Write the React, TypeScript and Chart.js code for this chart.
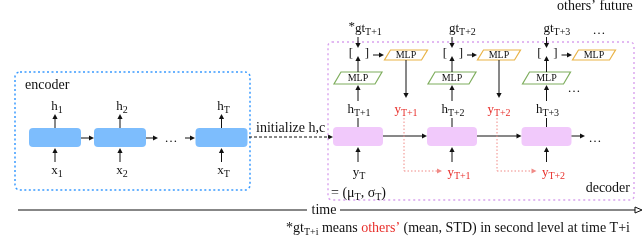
import React, { useEffect, useRef } from "react";
import { Chart, registerables } from "chart.js";

Chart.register(...registerables);

const W = 644;
const H = 245;

// ---- diagram data (centres / labels in diagram units) ----
const encCellX = [55, 120, 221.5];
const encSub = ["1", "2", "T"];
const decCellX = [358, 452, 546.5];
const decHSub = ["T+1", "T+2", "T+3"];
const gtSub = ["T+1", "T+2", "T+3"];
const outMlpX = [406, 499, 594];
const predSub = ["T+1", "T+2"];
const inputSub = ["T", "T+1", "T+2"];
const inputRed = [false, true, true];

const FONT = '"Liberation Serif", "DejaVu Serif", serif';
const RED = "#e8302c";
const BLACK = "#111";
const TXT = 14;

type Seg = { t: string; sub?: boolean; color?: string };

function rich(ctx: CanvasRenderingContext2D, segs: Seg[], x: number, y: number, size: number, align: "left" | "center" | "right" = "center", color = BLACK) {
  const subSize = Math.round(size * 0.74);
  const widths = segs.map((s) => {
    ctx.font = `${s.sub ? subSize : size}px ${FONT}`;
    return ctx.measureText(s.t).width;
  });
  const total = widths.reduce((a, b) => a + b, 0);
  let cur = align === "center" ? x - total / 2 : align === "right" ? x - total : x;
  ctx.textAlign = "left";
  ctx.textBaseline = "alphabetic";
  segs.forEach((s, i) => {
    ctx.font = `${s.sub ? subSize : size}px ${FONT}`;
    ctx.fillStyle = s.color || color;
    ctx.fillText(s.t, cur, s.sub ? y + 3 : y);
    cur += widths[i];
  });
}

function arrow(ctx: CanvasRenderingContext2D, x1: number, y1: number, x2: number, y2: number, color = BLACK, dash: number[] = [], lw = 1, head = 5) {
  const ang = Math.atan2(y2 - y1, x2 - x1);
  ctx.save();
  ctx.strokeStyle = color;
  ctx.fillStyle = color;
  ctx.lineWidth = lw;
  ctx.setLineDash(dash);
  ctx.beginPath();
  ctx.moveTo(x1, y1);
  ctx.lineTo(x2 - Math.cos(ang) * head * 0.8, y2 - Math.sin(ang) * head * 0.8);
  ctx.stroke();
  ctx.setLineDash([]);
  ctx.beginPath();
  ctx.moveTo(x2, y2);
  ctx.lineTo(x2 - head * Math.cos(ang) + 2.6 * Math.sin(ang), y2 - head * Math.sin(ang) - 2.6 * Math.cos(ang));
  ctx.lineTo(x2 - head * Math.cos(ang) - 2.6 * Math.sin(ang), y2 - head * Math.sin(ang) + 2.6 * Math.cos(ang));
  ctx.closePath();
  ctx.fill();
  ctx.restore();
}

function line(ctx: CanvasRenderingContext2D, x1: number, y1: number, x2: number, y2: number, color = BLACK, dash: number[] = [], lw = 1) {
  ctx.save();
  ctx.strokeStyle = color;
  ctx.lineWidth = lw;
  ctx.setLineDash(dash);
  ctx.beginPath();
  ctx.moveTo(x1, y1);
  ctx.lineTo(x2, y2);
  ctx.stroke();
  ctx.restore();
}

function para(ctx: CanvasRenderingContext2D, cx: number, cy: number, w: number, h: number, skew: number, stroke: string) {
  const l = cx - w / 2, r = cx + w / 2, t = cy - h / 2, b = cy + h / 2;
  ctx.save();
  ctx.beginPath();
  ctx.moveTo(l + skew, t);
  ctx.lineTo(r, t);
  ctx.lineTo(r - skew, b);
  ctx.lineTo(l, b);
  ctx.closePath();
  ctx.fillStyle = "#fff";
  ctx.fill();
  ctx.strokeStyle = stroke;
  ctx.lineWidth = 1.2;
  ctx.stroke();
  ctx.fillStyle = BLACK;
  ctx.font = `10px ${FONT}`;
  ctx.textAlign = "center";
  ctx.textBaseline = "middle";
  ctx.fillText("MLP", cx, cy + 0.5);
  ctx.restore();
}

function rrect(ctx: CanvasRenderingContext2D, x: number, y: number, w: number, h: number, r: number, fill?: string, stroke?: string, dash: number[] = [], lw = 1) {
  ctx.save();
  ctx.beginPath();
  ctx.roundRect(x, y, w, h, r);
  if (fill) {
    ctx.fillStyle = fill;
    ctx.fill();
  }
  if (stroke) {
    ctx.strokeStyle = stroke;
    ctx.lineWidth = lw;
    ctx.setLineDash(dash);
    ctx.stroke();
  }
  ctx.restore();
}

function dots(ctx: CanvasRenderingContext2D, x: number, y: number) {
  ctx.save();
  ctx.fillStyle = BLACK;
  ctx.font = `13px ${FONT}`;
  ctx.textAlign = "center";
  ctx.textBaseline = "alphabetic";
  ctx.fillText("…", x, y);
  ctx.restore();
}

function plain(ctx: CanvasRenderingContext2D, t: string, x: number, y: number, align: CanvasTextAlign, size = TXT, color = BLACK) {
  ctx.save();
  ctx.fillStyle = color;
  ctx.font = `${size}px ${FONT}`;
  ctx.textAlign = align;
  ctx.textBaseline = "alphabetic";
  ctx.fillText(t, x, y);
  ctx.restore();
}

const diagramPlugin = {
  id: "diagram",
  afterDraw(chart: any) {
    const ctx: CanvasRenderingContext2D = chart.ctx;
    const sx = (v: number) => chart.scales.x.getPixelForValue(v);
    const sy = (v: number) => chart.scales.y.getPixelForValue(v);

    // encoder box
    rrect(ctx, sx(15), sy(72), sx(250) - sx(15), sy(190) - sy(72), 5, undefined, "#3a9bff", [2, 2.5], 1.5);
    plain(ctx, "encoder", sx(25), sy(89), "left");

    // encoder cells
    encCellX.forEach((cx, i) => {
      rrect(ctx, sx(cx - 26), sy(128), sx(cx + 26) - sx(cx - 26), sy(147) - sy(128), 4, "#7dbdfd");
      arrow(ctx, sx(cx), sy(128), sx(cx), sy(114));
      arrow(ctx, sx(cx), sy(162), sx(cx), sy(148));
      rich(ctx, [{ t: "h" }, { t: encSub[i], sub: true }], sx(cx + 2), sy(110), 13);
      rich(ctx, [{ t: "x" }, { t: encSub[i], sub: true }], sx(cx + 2), sy(174), 13);
    });
    arrow(ctx, sx(encCellX[0] + 26), sy(138), sx(encCellX[1] - 26), sy(138));
    arrow(ctx, sx(encCellX[1] + 26), sy(138), sx(158), sy(138));
    dots(ctx, sx(171), sy(142));
    arrow(ctx, sx(185), sy(138), sx(encCellX[2] - 26.5), sy(138));

    // initialize
    arrow(ctx, sx(249), sy(137), sx(decCellX[0] - 25), sy(137), BLACK, [3, 2]);
    plain(ctx, "initialize h,c", sx(256), sy(132), "left");

    // decoder box
    rrect(ctx, sx(328), sy(42), sx(634) - sx(328), sy(200) - sy(42), 4, undefined, "#d9a2ee", [2, 3], 1.4);
    plain(ctx, "decoder", sx(630), sy(192), "right");

    // decoder columns
    decCellX.forEach((cx, i) => {
      rrect(ctx, sx(cx - 25), sy(127), sx(cx + 25) - sx(cx - 25), sy(146) - sy(127), 4, "#f1c9fb");
      // h label
      line(ctx, sx(cx), sy(127), sx(cx), sy(118));
      rich(ctx, [{ t: "h" }, { t: decHSub[i], sub: true }], sx(cx + 1), sy(113), 13);
      arrow(ctx, sx(cx), sy(101), sx(cx), sy(85));
      // green MLP
      para(ctx, sx(cx), sy(78), sx(cx + 24) - sx(cx - 24), sy(84) - sy(72), 7, "#7fae5e");
      arrow(ctx, sx(cx), sy(72), sx(cx), sy(56));
      // bracket
      plain(ctx, "[", sx(cx - 7), sy(57), "center", 13);
      plain(ctx, "]", sx(cx + 9), sy(57), "center", 13);
      // gt
      arrow(ctx, sx(cx), sy(37), sx(cx), sy(48));
      rich(ctx, [{ t: "gt" }, { t: gtSub[i], sub: true }], sx(cx - 3), sy(32), 13, "left");
      if (i === 0) rich(ctx, [{ t: "*" }], sx(cx - 3), sy(30), 13, "right");
      // bracket -> orange MLP
      arrow(ctx, sx(cx + 15), sy(55), sx(outMlpX[i] - 22), sy(55));
      para(ctx, sx(outMlpX[i]), sy(55), sx(outMlpX[i] + 21.5) - sx(outMlpX[i] - 21.5), sy(60) - sy(50), 6, "#e9b347");
      // input below
      arrow(ctx, sx(cx), sy(162), sx(cx), sy(147));
      const inCol = inputRed[i] ? RED : BLACK;
      rich(ctx, [{ t: "y", color: inCol }, { t: inputSub[i], sub: true, color: inCol }], sx(inputRed[i] ? cx + 7 : cx + 1), sy(176), 13);
    });

    // decoder recurrent arrows
    arrow(ctx, sx(decCellX[0] + 25), sy(136), sx(decCellX[1] - 25), sy(136));
    arrow(ctx, sx(decCellX[1] + 25), sy(136), sx(decCellX[2] - 25), sy(136));
    arrow(ctx, sx(decCellX[2] + 25), sy(136), sx(585), sy(136));
    dots(ctx, sx(595), sy(142));
    dots(ctx, sx(574), sy(92));
    dots(ctx, sx(599), sy(34));

    // predictions
    predSub.forEach((s, i) => {
      const px = outMlpX[i];
      arrow(ctx, sx(px), sy(60), sx(px), sy(98));
      rich(ctx, [{ t: "y", color: RED }, { t: s, sub: true, color: RED }], sx(px), sy(113), 13);
      line(ctx, sx(px - 2), sy(118), sx(px - 2), sy(171), "#f08a86", [1.5, 2]);
      arrow(ctx, sx(px - 2), sy(171), sx(decCellX[i + 1] - 10), sy(171), "#f08a86", [1.5, 2]);
    });

    // = (mu, sigma)
    rich(ctx, [{ t: "= (μ" }, { t: "T", sub: true }, { t: ", σ" }, { t: "T", sub: true }, { t: ")" }], sx(331), sy(197), 14, "left");

    // time axis
    line(ctx, sx(18), sy(210), sx(307), sy(210), BLACK, [], 1.2);
    plain(ctx, "time", sx(324), sy(214), "center");
    line(ctx, sx(340), sy(210), sx(635), sy(210), BLACK, [], 1.2);
    ctx.save();
    ctx.beginPath();
    ctx.moveTo(sx(642), sy(210));
    ctx.lineTo(sx(635), sy(207));
    ctx.lineTo(sx(635), sy(213));
    ctx.closePath();
    ctx.fillStyle = "#fff";
    ctx.fill();
    ctx.strokeStyle = BLACK;
    ctx.lineWidth = 1;
    ctx.stroke();
    ctx.restore();

    // footnote
    rich(
      ctx,
      [
        { t: "*gt" },
        { t: "T+i", sub: true },
        { t: " means " },
        { t: "others’", color: RED },
        { t: " (mean, STD) in second level at time T+i" },
      ],
      sx(286),
      sy(232),
      TXT,
      "left"
    );

    // others' future
    plain(ctx, "others’ future", sx(557), sy(10), "left");
  },
};

export default function App() {
  const ref = useRef<HTMLCanvasElement>(null);
  useEffect(() => {
    if (!ref.current) return;
    const chart = new Chart(ref.current, {
      type: "scatter",
      data: { datasets: [{ data: [], pointRadius: 0 }] },
      options: {
        animation: false,
        responsive: false,
        devicePixelRatio: 1,
        layout: { padding: 0 },
        plugins: { legend: { display: false }, tooltip: { enabled: false } },
        scales: {
          x: { type: "linear", min: 0, max: W, display: false },
          y: { type: "linear", min: 0, max: H, reverse: true, display: false },
        },
      },
      plugins: [diagramPlugin],
    });
    return () => chart.destroy();
  }, []);
  return (
    <div style={{ position: "fixed", left: 0, top: 0, width: W, height: H, background: "#fff" }}>
      <canvas ref={ref} width={W} height={H} style={{ display: "block" }} />
    </div>
  );
}
